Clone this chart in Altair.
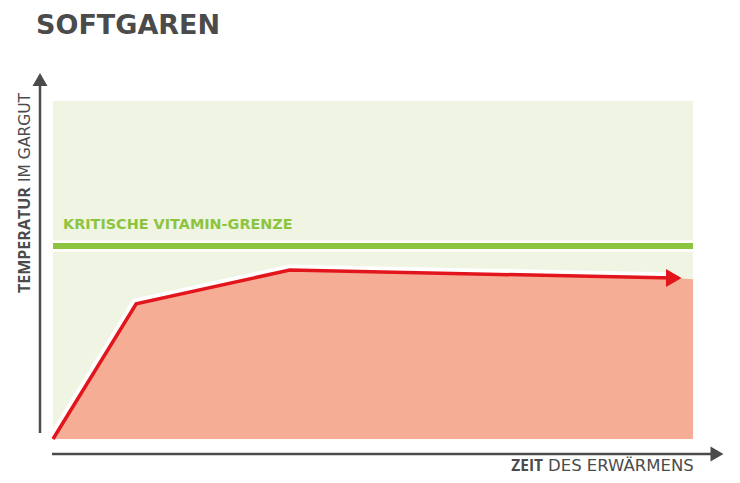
import altair as alt
import pandas as pd

# data
zeit = [0, 13, 37, 97]
temperatur = [0, 40, 50, 47.6]
flaeche_zeit = [0, 13, 37, 97, 100]
flaeche_temp = [0, 40, 50, 47.6, 47.3]
grenze = [57.1]

titel = "SOFTGAREN"
grenze_label = "KRITISCHE VITAMIN-GRENZE"
y_label_bold, y_label_reg = "TEMPERATUR", "IM GARGUT"
x_label_bold, x_label_reg = "ZEIT", "DES ERWÄRMENS"

GRAY = "#4b4b4b"
GREEN = "#8dc43f"
RED = "#e3151c"
SALMON = "#f5ae95"
BG = "#eff4e3"
FONT = "Open Sans"
WIDE = "DejaVu Sans"

xs = alt.Scale(domain=[0, 100], nice=False, zero=False)
ys = alt.Scale(domain=[0, 100], nice=False, zero=False)

line_df = pd.DataFrame({"zeit": zeit, "temp": temperatur})
area_df = pd.DataFrame({"zeit": flaeche_zeit, "temp": flaeche_temp})
tip_df = line_df.tail(1)
grenze_df = pd.DataFrame({"g": grenze})
dummy = pd.DataFrame({"a": [0]})

X = alt.X("zeit:Q", scale=xs, axis=None)
Y = alt.Y("temp:Q", scale=ys, axis=None)

grenze_halo = alt.Chart(grenze_df).mark_rule(color="white", strokeWidth=11).encode(
    y=alt.Y("g:Q", scale=ys, axis=None))
grenze_line = alt.Chart(grenze_df).mark_rule(color=GREEN, strokeWidth=6).encode(
    y=alt.Y("g:Q", scale=ys, axis=None))

halo = alt.Chart(line_df).mark_line(color="white", strokeWidth=11, strokeJoin="miter").encode(x=X, y=Y)
area = alt.Chart(area_df).mark_area(color=SALMON, opacity=1).encode(x=X, y=Y)
line = alt.Chart(line_df).mark_line(color=RED, strokeWidth=3.5, strokeJoin="miter").encode(x=X, y=Y)
tip = alt.Chart(tip_df).mark_point(shape="triangle-right", filled=True, size=324,
                                   color=RED, opacity=1).encode(x=X, y=Y)

# axes arrows
y_axis = alt.Chart(dummy).mark_rule(color=GRAY, strokeWidth=2.5).encode(
    x=alt.value(-13), y=alt.value(-16), y2=alt.value(332))
y_head = alt.Chart(dummy).mark_point(shape="triangle-up", filled=True, size=225,
                                     color=GRAY, opacity=1).encode(
    x=alt.value(-13), y=alt.value(-21.5))
x_axis = alt.Chart(dummy).mark_rule(color=GRAY, strokeWidth=2.5).encode(
    y=alt.value(353), x=alt.value(-1), x2=alt.value(660))
x_head = alt.Chart(dummy).mark_point(shape="triangle-right", filled=True, size=225,
                                     color=GRAY, opacity=1).encode(
    x=alt.value(664), y=alt.value(353))

def text(t, x, y, size, weight, color, align="left", angle=0, font=FONT):
    return alt.Chart(dummy).mark_text(text=t, font=font, fontSize=size, fontWeight=weight,
                                      color=color, align=align, baseline="alphabetic",
                                      angle=angle).encode(x=alt.value(x), y=alt.value(y))

title_t = text(titel, -17, -67, 27, 700, GRAY, font=WIDE)
grenze_t = text(grenze_label, 10, 128, 14.4, 700, GREEN, font=WIDE)
ylab1 = text(y_label_bold, -23, 192, 16, 700, GRAY, angle=270)
ylab2 = text(y_label_reg, -23, 81, 15.5, 400, GRAY, angle=270, font=WIDE)
xlab1 = text(x_label_bold, 490, 370, 15.5, 700, GRAY, align="right")
xlab2 = text(x_label_reg, 495, 370, 16.5, 400, GRAY, font=WIDE)

chart = alt.layer(
    grenze_halo, grenze_line, halo, area, line, tip,
    y_axis, y_head, x_axis, x_head,
    title_t, grenze_t, ylab1, ylab2, xlab1, xlab2,
).properties(
    width=640, height=338, autosize="none",
    padding={"left": 45, "top": 93, "right": 39, "bottom": 36},
).configure_view(fill=BG, stroke=None)

chart.save("out.html", embed_options={"renderer": "svg", "actions": False})
